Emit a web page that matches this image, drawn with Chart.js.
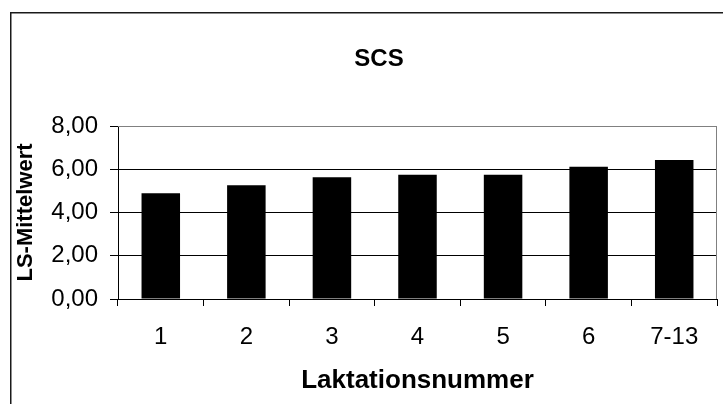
<!DOCTYPE html>
<html>
<head>
<meta charset="utf-8">
<title>SCS</title>
<script src="https://cdn.jsdelivr.net/npm/chart.js@4.4.1/dist/chart.umd.min.js"></script>
<style>
  html, body { margin: 0; padding: 0; background: #ffffff; }
  #wrap { width: 723px; height: 404px; }
</style>
</head>
<body>
<div id="wrap"><canvas id="chart" width="723" height="404"></canvas></div>
<script>
// Lactation number groups and least-squares means of the somatic cell score
const categories = ['1', '2', '3', '4', '5', '6', '7-13'];
const lsMeans = [4.89, 5.26, 5.63, 5.74, 5.74, 6.12, 6.43];
const yTicks = [0, 2, 4, 6, 8];
const yTickLabels = ['0,00', '2,00', '4,00', '6,00', '8,00'];

const FONT = '"Liberation Sans", Arial, sans-serif';

// White page with a dark frame and a grey outline on the top/right of the plot
const framePlugin = {
  id: 'frame',
  beforeDraw(chart) {
    const ctx = chart.ctx;
    ctx.save();
    ctx.fillStyle = '#ffffff';
    ctx.fillRect(0, 0, chart.width, chart.height);
    ctx.strokeStyle = '#1a1a1a';
    ctx.lineWidth = 1.5;
    ctx.strokeRect(10.75, 12.75, chart.width + 20, chart.height + 20);
    ctx.restore();
  },
  afterDraw(chart) {
    const {ctx, chartArea: a} = chart;
    ctx.save();
    ctx.strokeStyle = '#808080';
    ctx.lineWidth = 1;
    ctx.beginPath();
    ctx.moveTo(a.left, a.top + 0.5);
    ctx.lineTo(a.right - 0.5, a.top + 0.5);
    ctx.lineTo(a.right - 0.5, a.bottom);
    ctx.stroke();
    ctx.restore();
  }
};

new Chart(document.getElementById('chart'), {
  type: 'bar',
  data: {
    labels: categories,
    datasets: [{
      data: lsMeans,
      backgroundColor: '#000000',
      borderWidth: 0,
      barPercentage: 0.45,
      categoryPercentage: 1.0
    }]
  },
  plugins: [framePlugin],
  options: {
    responsive: false,
    devicePixelRatio: 1,
    animation: false,
    layout: { padding: { left: 41, right: 6, top: 0, bottom: 0 } },
    plugins: {
      legend: { display: false },
      tooltip: { enabled: false },
      title: {
        display: true,
        text: 'SCS',
        color: '#000000',
        font: { family: FONT, size: 24, weight: 'bold', lineHeight: 1.2 },
        padding: { top: 45, bottom: 52.2 }
      }
    },
    scales: {
      x: {
        grid: {
          display: true,
          drawOnChartArea: false,
          drawTicks: true,
          tickLength: 7,
          offset: true,
          color: '#000000',
          tickColor: '#000000'
        },
        border: { display: true, color: '#000000', width: 1 },
        ticks: {
          color: '#000000',
          font: { family: FONT, size: 24 },
          padding: 17,
          maxRotation: 0,
          autoSkip: false
        },
        title: {
          display: true,
          text: 'Laktationsnummer',
          color: '#000000',
          font: { family: FONT, size: 26, weight: 'bold', lineHeight: 1.2 },
          padding: { top: 0, bottom: 8 }
        },
        afterFit(scale) { scale.height = 105; }
      },
      y: {
        min: 0,
        max: 8,
        afterBuildTicks(scale) {
          scale.ticks = yTicks.map(v => ({ value: v }));
        },
        grid: {
          drawOnChartArea: true,
          drawTicks: true,
          tickLength: 8,
          color: ctx => (ctx.tick && ctx.tick.value === 8) ? '#808080' : '#000000',
          tickColor: '#000000',
          lineWidth: 1
        },
        border: { display: true, color: '#000000', width: 1 },
        ticks: {
          color: '#000000',
          font: { family: FONT, size: 24 },
          padding: 12,
          callback: (value) => yTickLabels[yTicks.indexOf(value)]
        },
        title: {
          display: true,
          text: 'LS-Mittelwert',
          color: '#000000',
          font: { family: FONT, size: 22, weight: 'bold', lineHeight: 1.2 },
          padding: { top: -28.2, bottom: 0 }
        },
        afterFit(scale) { scale.width = 77; }
      }
    }
  }
});
</script>
</body>
</html>
